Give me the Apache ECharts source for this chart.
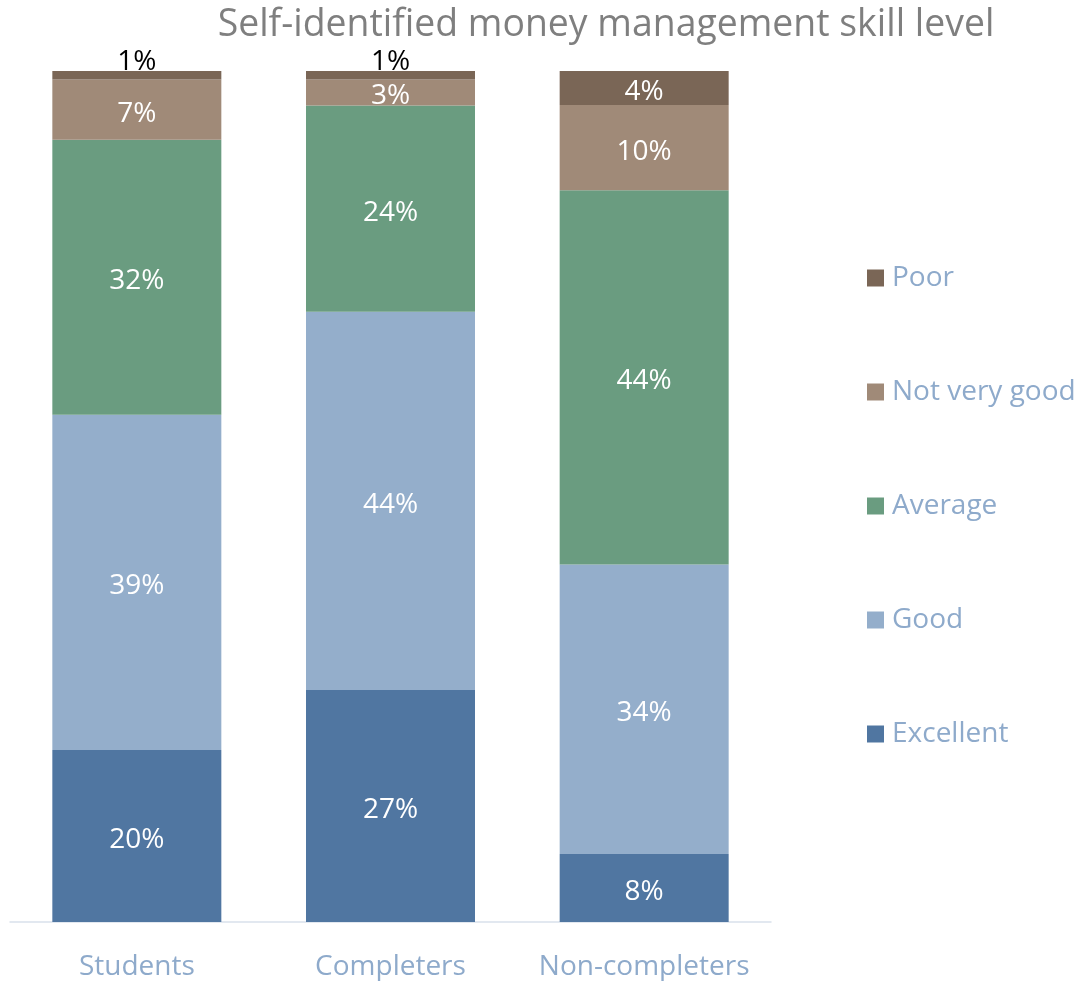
<!DOCTYPE html>
<html><head><meta charset="utf-8">
<script src="https://cdn.jsdelivr.net/npm/echarts@6/dist/echarts.min.js"></script>
<style>html,body{margin:0;padding:0;background:#fff}#c{width:1080px;height:981px}</style>
</head><body><div id="c"></div>
<script>
const categories = ['Students', 'Completers', 'Non-completers'];
const excellent = [20, 27, 8];
const good = [39, 44, 34];
const average = [32, 24, 44];
const notVeryGood = [7, 3, 10];
const poor = [1, 1, 4];
const seriesNames = ['Excellent', 'Good', 'Average', 'Not very good', 'Poor'];
const colors = ['#5076a1', '#94aecb', '#6a9c80', '#a08a78', '#7a6656'];

const raw = [excellent, good, average, notVeryGood, poor];
const totals = categories.map((_, i) => raw.reduce((s, a) => s + a[i], 0));
const FONT = '"Open Sans", "Noto Sans", sans-serif';

const series = raw.map((arr, si) => ({
  name: seriesNames[si],
  type: 'bar',
  stack: 'total',
  barWidth: 169,
  itemStyle: { color: colors[si] },
  data: arr.map((v, i) => {
    const d = { value: v / totals[i] * 100, raw: v };
    if (si === 4 && v < 2) {
      d.label = { position: 'top', distance: -1, color: '#000' };
    }
    return d;
  }),
  label: {
    show: true,
    position: 'inside',
    color: '#fff',
    fontSize: 28,
    fontFamily: FONT,
    offset: [0, 4],
    formatter: p => p.data.raw + '%'
  }
}));

const chart = echarts.init(document.getElementById('c'));
chart.setOption({
  animation: false,
  title: {
    text: 'Self-identified money management skill level',
    left: 601, textAlign: 'center', top: 2,
    textStyle: { color: '#7f7f7f', fontSize: 37.4, fontWeight: 'normal', fontFamily: FONT }
  },
  legend: {
    orient: 'vertical',
    left: 867, top: 263,
    padding: 0,
    itemWidth: 17, itemHeight: 17,
    itemGap: 84,
    icon: 'rect',
    data: seriesNames.slice().reverse(),
    textStyle: { color: '#8eaacb', fontSize: 28, fontFamily: FONT, lineHeight: 30, padding: [0, 0, 0, 3] }
  },
  grid: { left: 10, right: 309, top: 71, bottom: 57, containLabel: false },
  xAxis: {
    type: 'category',
    data: categories,
    axisLine: { lineStyle: { color: '#d9e1ec', width: 1.5 } },
    axisTick: { show: false },
    axisLabel: { color: '#8eaacb', fontSize: 28, fontFamily: FONT, margin: 31, interval: 0, hideOverlap: false }
  },
  yAxis: { type: 'value', min: 0, max: 100, show: false, splitLine: { show: false } },
  series: series
});
</script></body></html>
